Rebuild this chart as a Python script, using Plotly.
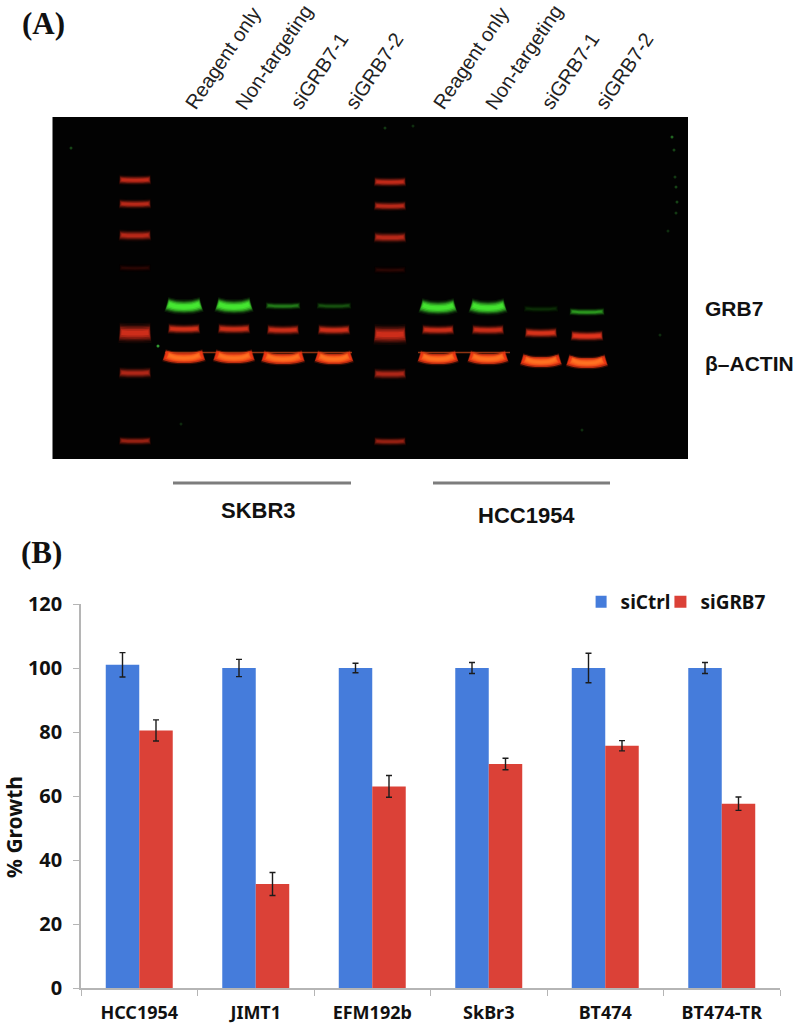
import plotly.graph_objects as go

# ---------- Panel B data ----------
cell_lines = ["HCC1954", "JIMT1", "EFM192b", "SkBr3", "BT474", "BT474-TR"]
si_ctrl = [101, 100, 100, 100, 100, 100]
si_ctrl_err = [3.8, 2.7, 1.5, 1.7, 4.6, 1.7]
si_grb7 = [80.5, 32.5, 63, 70, 75.7, 57.6]
si_grb7_err = [3.3, 3.6, 3.4, 1.8, 1.6, 2.1]
y_ticks = [0, 20, 40, 60, 80, 100, 120]

# ---------- Panel A data (gel read in picture units) ----------
lane_names = ["Reagent only", "Non-targeting", "siGRB7-1", "siGRB7-2"] * 2
lane_x = [184, 234, 283, 334, 438, 488, 541, 587]
label_x = [178, 228, 283, 338, 426, 478, 534, 588]
grb7_y = [306, 306, 306, 306, 307, 307, 309, 312]
grb7_int = [1.0, 0.95, 0.26, 0.16, 0.9, 0.9, 0.08, 0.36]
mid_y = [329, 329, 330, 330, 330, 330, 333, 336]
mid_int = [0.68, 0.64, 0.62, 0.65, 0.62, 0.6, 0.72, 0.85]
actin_y = [357, 357, 358, 358, 358, 358, 361, 362]
actin_w = [39, 38, 40, 35, 37, 37, 38, 38]
ladder_x = [135, 390]
ladder_y1 = [180, 204, 235.5, 268, 333, 373, 441]
ladder_y2 = [182, 206, 237.5, 270, 334.5, 374, 441.5]
ladder_int = [0.6, 0.55, 0.55, 0.08, 0.72, 0.5, 0.38]
ladder_h = [4, 4, 5, 3, 10, 5, 3.5]
speck_x = [71, 158, 385, 413, 672, 674, 675, 676, 677, 676, 668, 660, 181, 582]
speck_y = [148, 346, 128, 126, 137, 150, 177, 187, 202, 213, 231, 335, 424, 430]
speck_a = [0.3, 0.7, 0.25, 0.2, 0.45, 0.3, 0.25, 0.3, 0.3, 0.25, 0.2, 0.2, 0.18, 0.2]

BLUE = "#457cdb"
RED = "#db4137"
AXIS = "#b5b5b5"
SANS = "Noto Sans, Open Sans, sans-serif"
ARIAL = "Liberation Sans, Arial, sans-serif"
SERIF = "Liberation Serif, Times New Roman, serif"

fig = go.Figure()

# Soft band profile: stacked strokes from wide and faint to narrow and strong
GLOW = ((1.07, 1.7, 0.10), (1.04, 1.4, 0.18), (1.02, 1.18, 0.28), (1.0, 0.95, 0.45), (0.96, 0.68, 0.65), (0.9, 0.4, 0.85))
TIGHT = ((1.03, 1.25, 0.22), (1.0, 1.0, 0.7), (0.96, 0.7, 0.9))


def band(cx, cy, w, h, rgb, alpha, smile=1.0, profile=GLOW):
    xs = [cx - w / 2, cx - w / 4, cx, cx + w / 4, cx + w / 2]
    ys = [cy - smile, cy + smile * 0.35, cy + smile * 0.6, cy + smile * 0.35, cy - smile]
    for mult_w, mult_h, a in profile:
        dw = w * (1 - mult_w) / 2
        fig.add_trace(go.Scatter(
            x=[xs[0] + dw, xs[1], xs[2], xs[3], xs[4] - dw], y=ys, mode="lines",
            line=dict(color=f"rgba({rgb},{min(1, a * alpha):.3f})", width=h * mult_h, shape="spline"),
            xaxis="x2", yaxis="y2", showlegend=False, hoverinfo="skip",
        ))


# Ladders
for lx, ly in zip(ladder_x, (ladder_y1, ladder_y2)):
    for y, i, h in zip(ly, ladder_int, ladder_h):
        band(lx, y, 30, h + 2, "225,50,30", i, smile=0.3)

# Thin front linking the actin bands
for x0, x1, y in ((165, 352, 352.5), (418, 510, 352.5)):
    fig.add_trace(go.Scatter(x=[x0, x1], y=[y, y], mode="lines",
                             line=dict(color="rgba(190,70,25,0.75)", width=1.5),
                             xaxis="x2", yaxis="y2", showlegend=False, hoverinfo="skip"))

for x, gy, gi, my, mi, ay, aw in zip(lane_x, grb7_y, grb7_int, mid_y, mid_int, actin_y, actin_w):
    band(x, gy, 33, 9 if gi > 0.5 else 5, "70,235,50", gi, smile=1.6 if gi > 0.5 else 0.4)
    band(x, my, 30, 6.5, "235,55,30", mi, smile=0.4)
    band(x, ay, aw, 10, "240,55,20", 1.0, smile=1.8, profile=TIGHT)
    band(x, ay, aw * 0.82, 5.5, "255,115,35", 0.9, smile=1.8)

fig.add_trace(go.Scatter(
    x=speck_x, y=speck_y, mode="markers",
    marker=dict(size=3, color=[f"rgba(70,220,70,{a})" for a in speck_a]),
    xaxis="x2", yaxis="y2", showlegend=False, hoverinfo="skip",
))

# Panel B bars
fig.add_trace(go.Bar(
    x=cell_lines, y=si_ctrl, name="siCtrl", marker=dict(color=BLUE, line_width=0),
    error_y=dict(type="data", array=si_ctrl_err, color="#1c1c1c", thickness=1.4, width=3),
    xaxis="x", yaxis="y",
))
fig.add_trace(go.Bar(
    x=cell_lines, y=si_grb7, name="siGRB7", marker=dict(color=RED, line_width=0),
    error_y=dict(type="data", array=si_grb7_err, color="#1c1c1c", thickness=1.4, width=3),
    xaxis="x", yaxis="y",
))

annotations = []


def txt(x, y, text, size, family=SANS, color="#111", bold=True, angle=0, xanchor="center", yanchor="middle"):
    annotations.append(dict(
        x=x, y=y, xref="x2", yref="y2", text=f"<b>{text}</b>" if bold else text, showarrow=False,
        font=dict(size=size, family=family, color=color), textangle=angle,
        xanchor=xanchor, yanchor=yanchor, xshift=0, yshift=0,
    ))


txt(20, 23, "(A)", 31, SERIF, xanchor="left")
txt(19, 552, "(B)", 31, SERIF, xanchor="left")
for name, x in zip(lane_names, label_x):
    txt(x, 116, name, 20, ARIAL, "#222", bold=False, angle=-56, xanchor="left", yanchor="bottom")
txt(703, 308, "GRB7", 21, ARIAL, xanchor="left")
txt(703, 363, "β–ACTIN", 21, ARIAL, xanchor="left")
txt(258, 510, "SKBR3", 22, ARIAL)
txt(526, 515, "HCC1954", 22, ARIAL)
txt(14, 827, "% Growth", 21, SANS, angle=-90)

shapes = [
    dict(type="rect", xref="x2", yref="y2", x0=52.5, x1=688, y0=117, y1=459,
         fillcolor="#020202", line_width=0, layer="below"),
    dict(type="line", xref="x2", yref="y2", x0=173, x1=351, y0=483, y1=483,
         line=dict(color="#7d7d7d", width=3)),
    dict(type="line", xref="x2", yref="y2", x0=433, x1=610, y0=483, y1=483,
         line=dict(color="#7d7d7d", width=3)),
]

fig.update_layout(
    width=800, height=1025, margin=dict(l=0, r=0, t=0, b=0, autoexpand=False),
    paper_bgcolor="white", plot_bgcolor="rgba(0,0,0,0)",
    barmode="group", bargap=0.425, bargroupgap=0,
    annotations=annotations, shapes=shapes,
    legend=dict(orientation="h", x=0.7445, y=1 - 583 / 1025, xanchor="left", yanchor="top",
                font=dict(size=19, family=SANS, color="#111", weight="bold"),
                entrywidth=0, itemwidth=30, indentation=-15, bgcolor="rgba(0,0,0,0)"),
    xaxis=dict(domain=[81 / 800, 780 / 800], anchor="y", type="category", automargin=False,
               categoryorder="array", categoryarray=cell_lines,
               range=[-0.5, 5.5], showline=True, linecolor=AXIS, linewidth=1.5,
               showgrid=False, zeroline=False, ticks="outside", ticklen=6, tickcolor=AXIS,
               tickson="boundaries", ticklabelstandoff=8,
               tickfont=dict(size=18, family=SANS, color="#111", weight="bold")),
    yaxis=dict(domain=[1 - 988 / 1025, 1 - 604 / 1025], anchor="x", range=[0, 120], automargin=False,
               tickvals=y_ticks, showline=True, linecolor=AXIS, linewidth=1.5,
               showgrid=False, zeroline=False, ticks="outside", ticklen=6, tickcolor=AXIS,
               ticklabelstandoff=7,
               tickfont=dict(size=20, family=SANS, color="#111", weight="bold")),
    xaxis2=dict(domain=[0, 1], range=[0, 800], anchor="y2", visible=False, fixedrange=True, automargin=False),
    yaxis2=dict(domain=[0, 1], range=[1025, 0], anchor="x2", visible=False, fixedrange=True, automargin=False),
)

fig.write_html("out.html", config=dict(displayModeBar=False),
               post_script="document.body.style.margin='0';")
